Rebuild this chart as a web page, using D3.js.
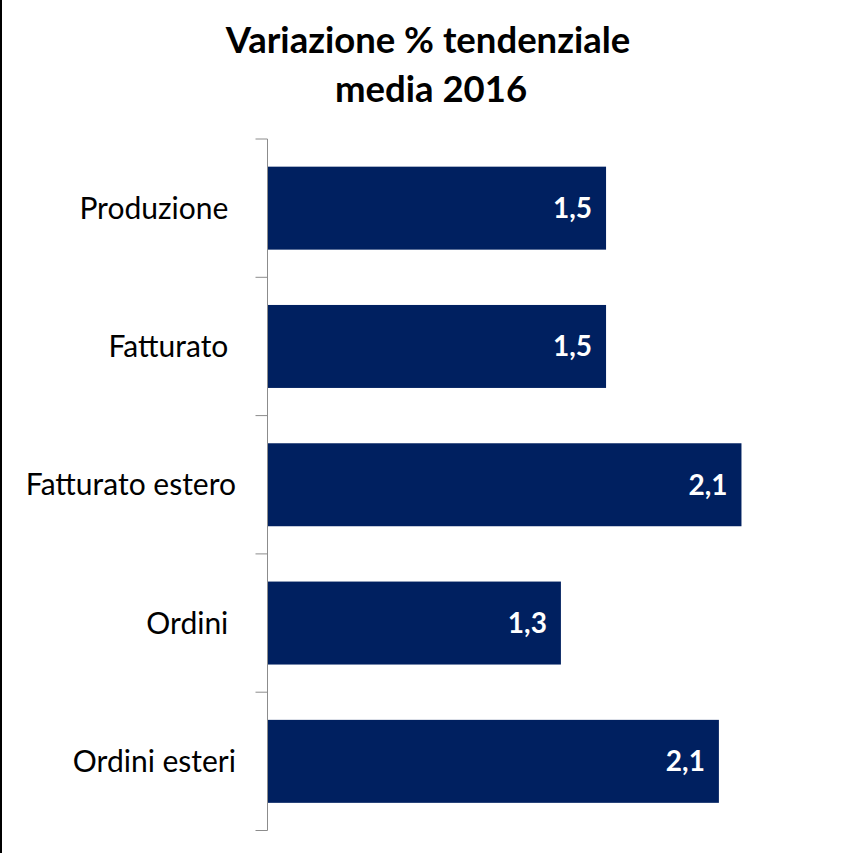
<!DOCTYPE html>
<html>
<head>
<meta charset="utf-8">
<script src="https://cdn.jsdelivr.net/npm/d3@7"></script>
<style>
  html, body { margin: 0; padding: 0; background: #fff; }
  svg { display: block; font-family: Lato, "Open Sans", sans-serif; }
  .cat { white-space: pre; }
</style>
</head>
<body>
<svg id="chart" width="855" height="853"></svg>
<script>
const categories = ["Produzione ", "Fatturato ", "Fatturato estero", "Ordini ", "Ordini esteri"];
const values = [1.5, 1.5, 2.1, 1.3, 2.0];
const valueLabels = ["1,5", "1,5", "2,1", "1,3", "2,1"];
const titleLines = ["Variazione % tendenziale", "media 2016"];

const W = 855, H = 853;
const svg = d3.select("#chart");
const margin = { top: 139, right: 23, bottom: 23, left: 267.5 };

// left frame line
svg.append("line")
  .attr("x1", 1).attr("x2", 1).attr("y1", 0).attr("y2", H)
  .attr("stroke", "#000").attr("stroke-width", 2);

const x = d3.scaleLinear().domain([0, 2.5]).range([margin.left, margin.left + 2.5 * 225.7]);
const y = d3.scaleBand().domain(categories).range([margin.top, 830.5]).paddingInner(0.4).paddingOuter(0.2);

// title
svg.append("text")
  .attr("x", 428).attr("y", 53)
  .attr("text-anchor", "middle")
  .attr("font-weight", "bold").attr("font-size", 36.5)
  .text(titleLines[0]);
svg.append("text")
  .attr("x", 431).attr("y", 102)
  .attr("text-anchor", "middle")
  .attr("font-weight", "bold").attr("font-size", 36.5)
  .text(titleLines[1]);

const data = categories.map((c, i) => ({ c, v: values[i], l: valueLabels[i] }));

svg.selectAll("rect.bar").data(data).join("rect")
  .attr("class", "bar")
  .attr("x", x(0))
  .attr("y", d => y(d.c))
  .attr("width", d => x(d.v) - x(0))
  .attr("height", y.bandwidth())
  .attr("fill", "#002060");

// axis
const axis = d3.axisLeft(y).tickSize(0).tickFormat("");
const g = svg.append("g").attr("transform", `translate(${margin.left},0)`).call(axis);
g.select(".domain").remove();
g.append("line").attr("x1", 0).attr("x2", 0).attr("y1", 139).attr("y2", 830.5)
  .attr("stroke", "#8c8c8c").attr("stroke-width", 1);
// tick marks at band boundaries
const bounds = d3.range(categories.length + 1).map(i => y.range()[0] + i * ((y.range()[1] - y.range()[0]) / categories.length));
g.selectAll("line.tk").data(bounds).join("line")
  .attr("class", "tk")
  .attr("x1", -12).attr("x2", 0)
  .attr("y1", d => d).attr("y2", d => d)
  .attr("stroke", "#8c8c8c").attr("stroke-width", 1);

// category labels
svg.selectAll("text.cat").data(data).join("text")
  .attr("class", "cat")
  .attr("x", 236)
  .attr("y", d => y(d.c) + y.bandwidth() / 2)
  .attr("dy", "0.35em")
  .attr("text-anchor", "end")
  .attr("font-size", 30)
  .attr("fill", "#000")
  .text(d => d.c);

// value labels
svg.selectAll("text.val").data(data).join("text")
  .attr("class", "val")
  .attr("x", d => x(d.v) - 14)
  .attr("y", d => y(d.c) + y.bandwidth() / 2)
  .attr("dy", "0.35em")
  .attr("text-anchor", "end")
  .attr("font-size", 28)
  .attr("font-weight", "bold")
  .attr("fill", "#fff")
  .text(d => d.l);
</script>
</body>
</html>
